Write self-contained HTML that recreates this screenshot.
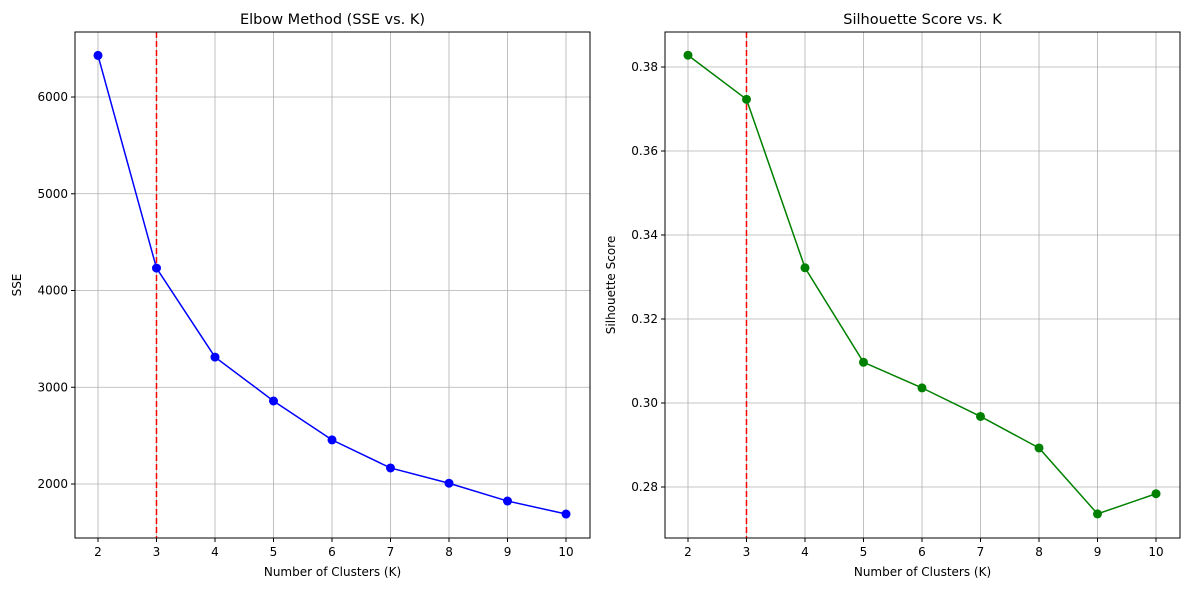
<!DOCTYPE html>
<html><head><meta charset="utf-8"><style>
body{margin:0;background:#fff;font-family:"Liberation Sans","DejaVu Sans",sans-serif;}
svg text{font-family:"DejaVu Sans","Liberation Sans",sans-serif;}
</style></head><body>
<svg id="c" width="1189" height="590"></svg>
<script>
const ks=[2,3,4,5,6,7,8,9,10];
const sse=[6430,4232,3312,2858,2456,2166,2008,1824,1690];
const sil=[0.3828,0.3723,0.3322,0.3097,0.3036,0.2968,0.2893,0.2736,0.2784];
const sseTicks=[2000,3000,4000,5000,6000];
const silTicks=[0.28,0.30,0.32,0.34,0.36,0.38];
const bestK=3;
const NS="http://www.w3.org/2000/svg";
const svg=document.getElementById('c');
function el(t,a,p){const e=document.createElementNS(NS,t);for(const k in a)e.setAttribute(k,a[k]);(p||svg).appendChild(e);return e;}
function panel(o){
 const g=el('g',{});
 
 
 const X=v=>o.x0+(v-o.xmin)/(o.xmax-o.xmin)*(o.x1-o.x0);
 const Y=v=>o.y1-(v-o.ymin)/(o.ymax-o.ymin)*(o.y1-o.y0);
 ks.forEach(k=>{const l=el('line',{x1:X(k),x2:X(k),y1:o.y0,y2:o.y1,stroke:'#b0b0b0','stroke-width':0.8},g);
  
  el('line',{x1:X(k),x2:X(k),y1:o.y1,y2:o.y1+4,stroke:'#000'},g);
  const t=el('text',{x:X(k),y:o.y1+18,'text-anchor':'middle','font-size':12},g);t.textContent=k;
  });
 o.ticks.forEach(v=>{const l=el('line',{x1:o.x0,x2:o.x1,y1:Y(v),y2:Y(v),stroke:'#b0b0b0','stroke-width':0.8},g);
  
  el('line',{x1:o.x0-4,x2:o.x0,y1:Y(v),y2:Y(v),stroke:'#000'},g);
  const t=el('text',{x:o.x0-7,y:Y(v)+4,'text-anchor':'end','font-size':12},g);t.textContent=o.fmt(v);
  });
 const v=el('line',{x1:X(bestK),x2:X(bestK),y1:o.y0,y2:o.y1,stroke:'red','stroke-width':1.5,'stroke-dasharray':'6,3'},g);
 
 const p=el('polyline',{points:ks.map((k,i)=>X(k)+','+Y(o.vals[i])).join(' '),fill:'none',stroke:o.color,'stroke-width':1.5},g);
 
 ks.forEach((k,i)=>{const c=el('circle',{cx:X(k),cy:Y(o.vals[i]),r:4.5,fill:o.color},g);
  });
 const r=el('rect',{x:o.x0,y:o.y0,width:o.x1-o.x0,height:o.y1-o.y0,fill:'none',stroke:'#000','stroke-width':1},g);
 
 const t=el('text',{x:(o.x0+o.x1)/2,y:o.y0-8,'text-anchor':'middle','font-size':14.5},g);t.textContent=o.title;
 
 const xl=el('text',{x:(o.x0+o.x1)/2,y:o.y1+38,'text-anchor':'middle','font-size':12},g);xl.textContent='Number of Clusters (K)';
 
 const yx=o.ylabX,yy=(o.y0+o.y1)/2;
 const yl=el('text',{x:yx,y:yy,'text-anchor':'middle','font-size':12,transform:`rotate(-90 ${yx} ${yy})`},g);yl.textContent=o.ylabel;
 
}
panel({name:'elbow-chart',x0:75,x1:590,y0:32,y1:538,xmin:1.607,xmax:10.41,ymin:1442,ymax:6672,vals:sse,ticks:sseTicks,fmt:v=>v,color:'blue',title:'Elbow Method (SSE vs. K)',ylabel:'SSE',ylabX:21});
panel({name:'silhouette-chart',x0:665,x1:1180,y0:32,y1:538,xmin:1.607,xmax:10.41,ymin:0.26786,ymax:0.38833,vals:sil,ticks:silTicks,fmt:v=>v.toFixed(2),color:'green',title:'Silhouette Score vs. K',ylabel:'Silhouette Score',ylabX:615});
</script>
</body></html>
